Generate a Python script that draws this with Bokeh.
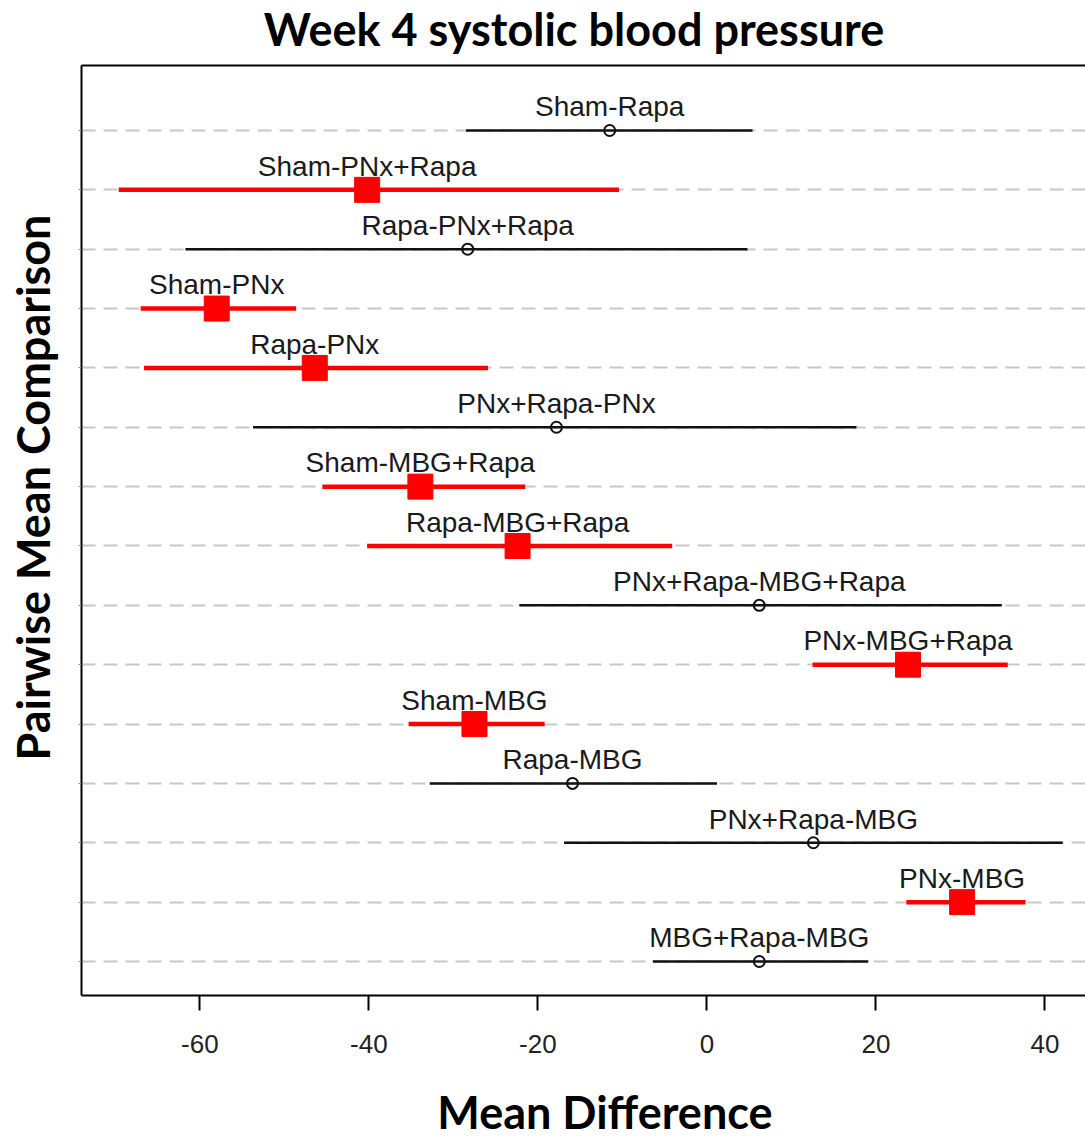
import math
from bokeh.plotting import figure
from bokeh.layouts import row, column
from bokeh.models import FixedTicker, LinearAxis, ColumnDataSource, Range1d
from bokeh.embed import file_html
from bokeh.resources import INLINE
from bokeh.core.properties import value

# Comparisons, top to bottom
comparisons = ["Sham-Rapa", "Sham-PNx+Rapa", "Rapa-PNx+Rapa", "Sham-PNx", "Rapa-PNx",
               "PNx+Rapa-PNx", "Sham-MBG+Rapa", "Rapa-MBG+Rapa", "PNx+Rapa-MBG+Rapa",
               "PNx-MBG+Rapa", "Sham-MBG", "Rapa-MBG", "PNx+Rapa-MBG", "PNx-MBG", "MBG+Rapa-MBG"]
estimates = [-11.5, -40.2, -28.3, -58.0, -46.4, -17.8, -33.9, -22.4, 6.2, 23.8, -27.5, -15.9, 12.6, 30.2, 6.2]
lower = [-28.5, -69.6, -61.7, -67.0, -66.6, -53.7, -45.5, -40.2, -22.2, 12.5, -35.3, -32.8, -16.9, 23.6, -6.4]
upper = [5.4, -10.4, 4.8, -48.6, -25.9, 17.7, -21.5, -4.1, 34.9, 35.6, -19.2, 1.2, 42.1, 37.7, 19.1]
x_ticks = [-60, -40, -20, 0, 20, 40]
x_tick_labels = ["-60", "-40", "-20", "0", "20", "40"]

n = len(comparisons)
ypos = [n - i for i in range(n)]
sig = [(lo > 0) or (hi < 0) for lo, hi in zip(lower, upper)]

X0, X1 = -74.0, 44.8
Y0, Y1 = 0.427, 16.095

TOTAL_W, TOTAL_H = 1085, 1138
LEFT_W = 78
TOP_H = 58
MAIN_W = TOTAL_W - LEFT_W
MAIN_H = 1008
BOTTOM_H = TOTAL_H - TOP_H - MAIN_H

TITLE_FONT = "Lato"

# ---- main plot ----
p = figure(width=MAIN_W, height=MAIN_H, output_backend="svg", toolbar_location=None,
           x_range=Range1d(X0, X1), y_range=Range1d(Y0, Y1),
           min_border_left=3, min_border_top=7, min_border_bottom=71, min_border_right=0)
p.outline_line_color = None
p.background_fill_color = "white"
p.border_fill_color = "white"

p.xgrid.visible = False
p.ygrid.ticker = FixedTicker(ticks=ypos)
p.ygrid.grid_line_color = "#c8c8c8"
p.ygrid.grid_line_dash = "14 8"
p.ygrid.grid_line_width = 2

p.xaxis.ticker = FixedTicker(ticks=x_ticks)
p.xaxis.major_label_overrides = {t: s for t, s in zip(x_ticks, x_tick_labels)}
p.xaxis.axis_line_color = "black"
p.xaxis.axis_line_width = 2
p.xaxis.major_tick_line_width = 2
p.xaxis.major_tick_out = 15
p.xaxis.major_tick_in = 0
p.xaxis.minor_tick_line_color = None
p.xaxis.major_label_text_font = "Liberation Sans"
p.xaxis.major_label_text_font_size = "26px"
p.xaxis.major_label_text_color = "#222222"
p.xaxis.major_label_standoff = 24

p.yaxis.ticker = FixedTicker(ticks=ypos)
p.yaxis.axis_line_color = "black"
p.yaxis.axis_line_width = 2
p.yaxis.major_tick_out = 3
p.yaxis.major_tick_in = 0
p.yaxis.major_tick_line_color = "#888888"
p.yaxis.minor_tick_line_color = None
p.yaxis.major_label_overrides = {y: "" for y in ypos}
p.yaxis.major_label_standoff = 0

top = LinearAxis(ticker=FixedTicker(ticks=[]), axis_line_width=2, axis_line_color="black",
                 major_tick_line_color=None, minor_tick_line_color=None,
                 major_tick_out=0, major_label_standoff=0)
p.add_layout(top, "above")

sig_src = ColumnDataSource(dict(
    y=[y for y, s in zip(ypos, sig) if s],
    est=[e for e, s in zip(estimates, sig) if s],
    lo=[l for l, s in zip(lower, sig) if s],
    hi=[h for h, s in zip(upper, sig) if s]))
ns_src = ColumnDataSource(dict(
    y=[y for y, s in zip(ypos, sig) if not s],
    est=[e for e, s in zip(estimates, sig) if not s],
    lo=[l for l, s in zip(lower, sig) if not s],
    hi=[h for h, s in zip(upper, sig) if not s]))

p.segment(x0="lo", x1="hi", y0="y", y1="y", source=ns_src, line_color="#111111", line_width=2.5)
p.scatter(x="est", y="y", source=ns_src, marker="circle", size=11, line_color="#111111",
          line_width=2, fill_alpha=0)
p.segment(x0="lo", x1="hi", y0="y", y1="y", source=sig_src, line_color="#ff0000", line_width=4.5)
p.scatter(x="est", y="y", source=sig_src, marker="square", size=25, line_color="#ff0000",
          fill_color="#ff0000")

lab_src = ColumnDataSource(dict(x=estimates, y=[y + 0.40 for y in ypos], t=comparisons))
p.text(x="x", y="y", text="t", source=lab_src, text_align="center", text_baseline="middle",
       text_font=value("Liberation Sans"), text_font_size="28px", text_color="#1a1a1a")

# ---- top strip: chart title ----
pt = figure(width=MAIN_W, height=TOP_H, output_backend="svg", toolbar_location=None,
            x_range=Range1d(0, MAIN_W), y_range=Range1d(TOP_H, 0),
            x_axis_location=None, y_axis_location=None, min_border=0)
pt.grid.visible = False
pt.outline_line_color = None
pt.text(x=[494], y=[28], text=["Week 4 systolic blood pressure"], text_align="center",
        text_baseline="middle", text_font=value(TITLE_FONT), text_font_size="45px",
        text_font_style="bold", text_color="black")

# ---- left strip: y-axis title ----
pl = figure(width=LEFT_W, height=TOTAL_H, output_backend="svg", toolbar_location=None,
            x_range=Range1d(0, LEFT_W), y_range=Range1d(TOTAL_H, 0),
            x_axis_location=None, y_axis_location=None, min_border=0)
pl.grid.visible = False
pl.outline_line_color = None
pl.text(x=[32], y=[487], text=["Pairwise Mean Comparison"], angle=math.pi / 2,
        text_align="center", text_baseline="middle", text_font=value(TITLE_FONT),
        text_font_size="45px", text_font_style="bold", text_color="black")

# ---- bottom strip: x-axis title ----
pb = figure(width=MAIN_W, height=BOTTOM_H, output_backend="svg", toolbar_location=None,
            x_range=Range1d(0, MAIN_W), y_range=Range1d(BOTTOM_H, 0),
            x_axis_location=None, y_axis_location=None, min_border=0)
pb.grid.visible = False
pb.outline_line_color = None
pb.text(x=[525], y=[1111 - TOP_H - MAIN_H], text=["Mean Difference"], text_align="center",
        text_baseline="middle", text_font=value(TITLE_FONT), text_font_size="45px",
        text_font_style="bold", text_color="black")

layout = row(pl, column(pt, p, pb))
open("out.html", "w").write(file_html(layout, INLINE))
